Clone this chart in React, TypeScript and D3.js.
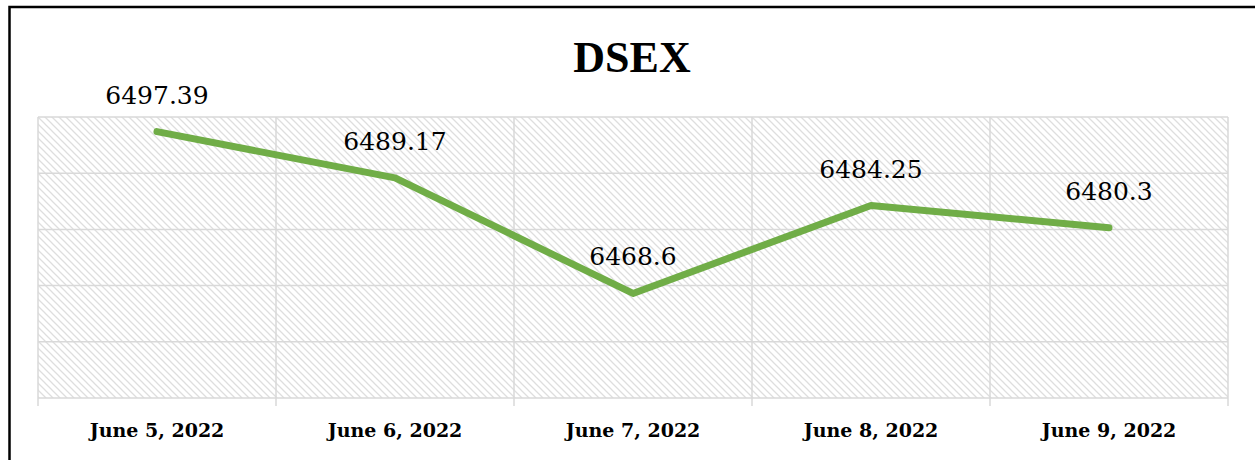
import React from "react";
import * as d3 from "d3";

const WIDTH = 1255;
const HEIGHT = 460;
const MARGIN = { top: 117, right: 27, bottom: 62, left: 38 };

const dates = ["June 5, 2022", "June 6, 2022", "June 7, 2022", "June 8, 2022", "June 9, 2022"];
const values = [6497.39, 6489.17, 6468.6, 6484.25, 6480.3];
const valueLabels = ["6497.39", "6489.17", "6468.6", "6484.25", "6480.3"];
const yTicks = [6450, 6460, 6470, 6480, 6490, 6500];

const GREEN = "#70ad47";
const GRID = "#d9d9d9";

const App = () => {
  const boundsWidth = WIDTH - MARGIN.left - MARGIN.right;
  const boundsHeight = HEIGHT - MARGIN.top - MARGIN.bottom;

  const xScale = d3.scaleBand<string>().domain(dates).range([0, boundsWidth]).padding(0);
  const yScale = d3.scaleLinear().domain([6450, 6500]).range([boundsHeight, 0]);

  const xCenter = (d: string) => (xScale(d) as number) + xScale.bandwidth() / 2;

  const linePath = d3
    .line<number>()
    .x((_, i) => xCenter(dates[i]))
    .y((v) => yScale(v))(values);

  // vertical grid lines at band edges
  const vLines = dates.map((d) => xScale(d) as number).concat([boundsWidth]);

  return (
    <svg
      width={WIDTH}
      height={HEIGHT}
      style={{ position: "absolute", left: 0, top: 0, background: "#fff" }}
    >
      <defs>
        <pattern id="hatch" width={7} height={7} patternUnits="userSpaceOnUse">
          <path
            d="M-1,-1 L8,8 M-1,6 L1,8 M6,-1 L8,1"
            stroke="#dedede"
            strokeWidth={1.3}
          />
        </pattern>
      </defs>

      {/* chart border */}
      <rect x={9.5} y={7} width={1300} height={500} fill="none" stroke="#000" strokeWidth={2.5} />

      {/* title */}
      <text
        x={632}
        y={72}
        textAnchor="middle"
        fontFamily="'Liberation Serif', serif"
        fontWeight="bold"
        fontSize={44}
        fill="#000"
      >
        DSEX
      </text>

      <g transform={`translate(${MARGIN.left},${MARGIN.top})`}>
        <rect x={0} y={0} width={boundsWidth} height={boundsHeight} fill="url(#hatch)" />

        {/* horizontal grid */}
        {yTicks.map((t) => (
          <line
            key={t}
            x1={0}
            x2={boundsWidth}
            y1={yScale(t)}
            y2={yScale(t)}
            stroke={GRID}
            strokeWidth={1.5}
          />
        ))}

        {/* vertical grid + ticks */}
        {vLines.map((x, i) => (
          <line
            key={i}
            x1={x}
            x2={x}
            y1={0}
            y2={boundsHeight + 8}
            stroke={GRID}
            strokeWidth={1.5}
          />
        ))}

        {/* line */}
        <path
          d={linePath as string}
          fill="none"
          stroke={GREEN}
          strokeWidth={7}
          strokeLinecap="round"
          strokeLinejoin="round"
        />

        {/* data labels */}
        {values.map((v, i) => (
          <text
            key={i}
            x={xCenter(dates[i])}
            y={yScale(v) - 28}
            textAnchor="middle"
            fontFamily="'DejaVu Serif', serif"
            fontSize={25}
            fill="#000"
          >
            {valueLabels[i]}
          </text>
        ))}

        {/* x labels */}
        {dates.map((d) => (
          <text
            key={d}
            x={xCenter(d)}
            y={boundsHeight + 39}
            textAnchor="middle"
            fontFamily="'DejaVu Serif', serif"
            fontWeight="bold"
            fontSize={19}
            fill="#000"
          >
            {d}
          </text>
        ))}
      </g>
    </svg>
  );
};

export default App;
